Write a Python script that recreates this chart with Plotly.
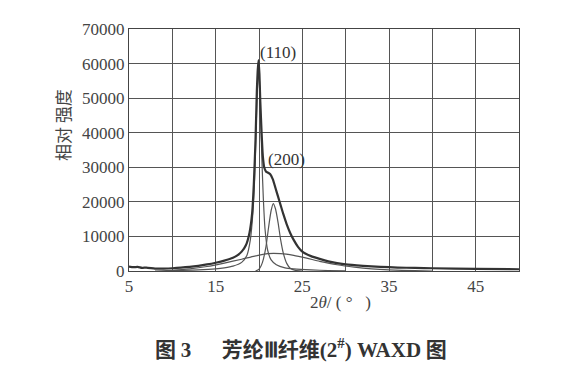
import plotly.graph_objects as go

# Overall measured WAXD pattern
main_x = [5, 5.5, 6, 6.5, 7, 8, 9, 10, 11, 12, 13, 14, 15, 16, 17, 17.5, 18, 18.5, 18.9, 19.2, 19.4,
          19.6, 19.75, 19.85, 19.95, 20.05, 20.15, 20.3, 20.45, 20.6, 20.8, 21.0, 21.3, 21.6, 21.9,
          22.2, 22.5, 22.8, 23.2, 23.6, 24.0, 24.5, 25, 26, 27, 28, 29, 30, 32, 34, 36, 38, 40, 45, 50]
main_y = [1300, 1100, 1200, 900, 1000, 700, 700, 800, 1000, 1200, 1500, 1900, 2400, 3000, 3800, 4500,
          5600, 7500, 11000, 16500, 25000, 38000, 52000, 58000, 61000, 57000, 49000, 40000, 33000, 30000,
          28800, 28500, 28000, 26500, 24000, 21500, 19000, 16500, 13500, 11000, 9000, 7000, 5600, 4300,
          3500, 2800, 2300, 1900, 1500, 1200, 1000, 900, 800, 600, 500]

# Fitted (110) crystalline peak
p110_x = [10, 13, 15, 16, 17, 18, 18.6, 19.0, 19.3, 19.5, 19.7, 19.85, 19.95, 20.05, 20.2, 20.35,
          20.5, 20.7, 21.0, 21.4, 22.0, 23, 24, 26, 28, 30]
p110_y = [100, 300, 600, 900, 1400, 2500, 4500, 9000, 17000, 27000, 44000, 55000, 58500, 55000, 44000,
          31000, 21000, 12000, 6000, 3200, 1800, 900, 600, 300, 150, 50]

# Fitted (200) crystalline peak
p200_x = [19.6, 20.0, 20.4, 20.8, 21.1, 21.4, 21.65, 21.9, 22.2, 22.5, 22.8, 23.2, 23.6, 24.2, 25]
p200_y = [0, 500, 2500, 7000, 12500, 17500, 19500, 18000, 14000, 9000, 5200, 2200, 800, 200, 0]

# Fitted amorphous halo
amo_x = [8, 10, 12, 14, 16, 18, 19.5, 21, 22.5, 24, 25.5, 27, 29, 31, 33, 35, 38, 40]
amo_y = [0, 200, 600, 1300, 2300, 3400, 4300, 5000, 5000, 4500, 3700, 2800, 1800, 1100, 600, 300, 100, 0]

x_ticks = [5, 10, 15, 20, 25, 30, 35, 40, 45, 50]
x_labels = ["5", "", "15", "", "25", "", "35", "", "45", ""]
y_ticks = [0, 10000, 20000, 30000, 40000, 50000, 60000, 70000]
y_labels = ["0", "10000", "20000", "30000", "40000", "50000", "60000", "70000"]

fig = go.Figure()
fig.add_trace(go.Scatter(x=p110_x, y=p110_y, mode="lines", line=dict(color="#555555", width=1.2, shape="spline", smoothing=0.6), showlegend=False))
fig.add_trace(go.Scatter(x=p200_x, y=p200_y, mode="lines", line=dict(color="#555555", width=1.2, shape="spline", smoothing=0.6), showlegend=False))
fig.add_trace(go.Scatter(x=amo_x, y=amo_y, mode="lines", line=dict(color="#555555", width=1.2, shape="spline", smoothing=0.6), showlegend=False))
fig.add_trace(go.Scatter(x=main_x, y=main_y, mode="lines", line=dict(color="#333333", width=2.2, shape="spline", smoothing=0.5), showlegend=False))

serif = "Liberation Serif, Times New Roman, serif"
fig.add_annotation(x=19.85, y=63200, text="(110)", showarrow=False, xanchor="left", yanchor="middle",
                   font=dict(family=serif, size=17, color="#333333"))
fig.add_annotation(x=20.75, y=32300, text="(200)", showarrow=False, xanchor="left", yanchor="middle",
                   font=dict(family=serif, size=17, color="#333333"))

fig.add_annotation(x=0.543, y=-0.13, xref="paper", yref="paper", text="2<i>θ</i>/ ( °   )", showarrow=False,
                   xanchor="center", yanchor="middle", font=dict(family=serif, size=17, color="#444444"))
caption = ("<b>图 <span style='font-family:Liberation Serif'>3</span>　  芳纶"
           "<span style='font-family:Liberation Serif'>Ⅲ</span>纤维"
           "<span style='font-family:Liberation Serif'>(2<sup>#</sup>) WAXD</span> 图</b>")
fig.add_annotation(x=0.441, y=-0.32, xref="paper", yref="paper", text=caption, showarrow=False,
                   xanchor="center", yanchor="middle", font=dict(family="Noto Sans CJK SC", size=21, color="#333333"))
fig.add_annotation(x=-0.172, y=0.603, xref="paper", yref="paper", text="相对 强度", textangle=-90, showarrow=False,
                   xanchor="center", yanchor="middle", font=dict(family="Noto Sans CJK SC", size=17, color="#444444"))

fig.update_xaxes(range=[5, 50], tickvals=x_ticks, ticktext=x_labels, showgrid=True, gridcolor="#555555",
                 gridwidth=1, showline=True, linecolor="#444444", linewidth=1, mirror=True, ticks="",
                 zeroline=False, tickfont=dict(family=serif, size=17, color="#444444"))
fig.update_yaxes(range=[0, 70000], tickvals=y_ticks, ticktext=y_labels, showgrid=True, gridcolor="#555555",
                 gridwidth=1, showline=True, linecolor="#444444", linewidth=1, mirror=True, ticks="",
                 zeroline=False, tickfont=dict(family=serif, size=17, color="#444444"))

fig.update_layout(width=574, height=364, margin=dict(l=121, r=63, t=16, b=101),
                  plot_bgcolor="white", paper_bgcolor="white")
fig.write_html("out.html")
